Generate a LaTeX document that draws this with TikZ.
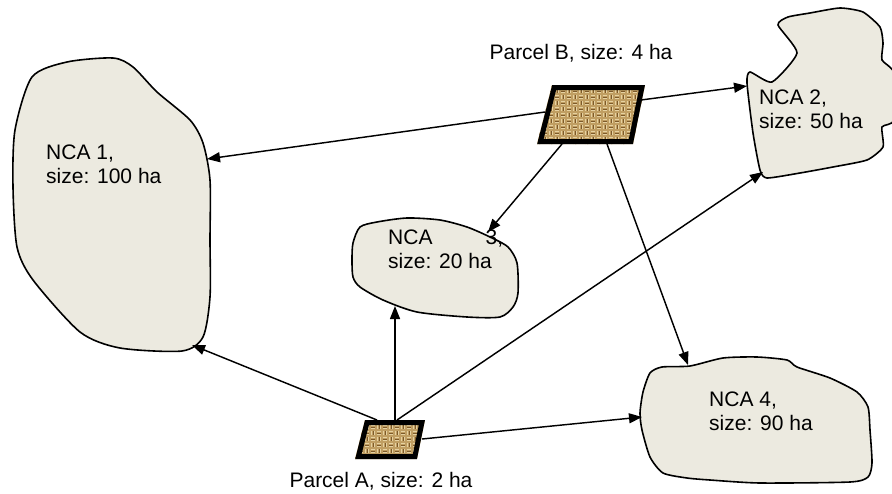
\documentclass[tikz,border=0pt]{standalone}
\usepackage{fontspec}
\setmainfont{Liberation Sans}
\usetikzlibrary{arrows.meta}
\definecolor{blobfill}{RGB}{236,234,224}
\definecolor{burlap}{RGB}{192,158,98}
\definecolor{burlaplight}{RGB}{230,210,162}
\definecolor{burlapdark}{RGB}{125,90,42}
\newcommand\weavecells[4]{%
  \foreach \i in {0,...,#3}{\foreach \j in {0,...,#4}{%
    \pgfmathsetmacro\cx{#1+6*\i}\pgfmathsetmacro\cy{#2+6*\j}%
    \ifodd\numexpr\i+\j\relax
      \draw[burlaplight,line width=1.7pt] (\cx+1.5,\cy+0.6) -- (\cx+1.5,\cy+5.4);
      \draw[burlaplight,line width=1.7pt] (\cx+4.5,\cy+0.6) -- (\cx+4.5,\cy+5.4);
      \draw[burlapdark,line width=0.6pt] (\cx+3,\cy+1) -- (\cx+3,\cy+5);
    \else
      \draw[burlaplight,line width=1.7pt] (\cx+0.6,\cy+1.5) -- (\cx+5.4,\cy+1.5);
      \draw[burlaplight,line width=1.7pt] (\cx+0.6,\cy+4.5) -- (\cx+5.4,\cy+4.5);
      \draw[burlapdark,line width=0.6pt] (\cx+1,\cy+3) -- (\cx+5,\cy+3);
    \fi}}}
\begin{document}
\begin{tikzpicture}[x=1pt,y=-1pt,
  blob/.style={draw=black,line width=1.6pt,fill=blobfill},
  link/.style={draw=black,line width=1.45pt,-{Triangle[length=13pt,width=10pt]}},
  lbl/.style={inner sep=0pt,font=\fontsize{21}{24}\selectfont},
  parcelborder/.style={draw=black,line width=5pt,line join=miter}]
\useasboundingbox (0,0) rectangle (892,493);

% NCA areas
\draw[blob] plot[smooth cycle,tension=0.45] coordinates {(113,58) (133,67) (157,92) (190,120) (203,143) (210,180) (210,240) (210,297) (203,337) (182,351) (120,348) (80,332) (33,280) (17,247) (13,187) (15,130) (32,77) (67,62)};
\draw[blob] plot[smooth cycle,tension=0.35] coordinates {(750,72) (772,82) (797,53) (778,25) (788,17) (810,13) (840,8) (863,12) (880,27) (883,43) (882,60) (894,73) (894,120) (882,127) (883,147) (867,160) (833,167) (800,173) (767,178) (760,170) (753,133) (747,83)};
\draw[blob] plot[smooth cycle,tension=0.45] coordinates {(360,227) (377,222) (407,218) (440,220) (467,227) (490,237) (508,247) (517,263) (518,293) (513,307) (500,317) (467,317) (417,312) (383,300) (360,287) (353,277) (352,260) (353,243)};
\draw[blob] plot[smooth cycle,tension=0.4] coordinates {(650,373) (662,367) (690,366) (723,358) (757,357) (787,360) (797,367) (830,378) (857,392) (868,407) (870,430) (872,463) (868,477) (850,482) (760,483) (710,480) (687,478) (663,473) (650,457) (642,430) (640,413) (643,392)};

% Parcel B
\begin{scope}
  \clip (552,85) -- (645,85) -- (633,144) -- (537,144) -- cycle;
  \fill[burlap] (530,80) rectangle (650,150);
  \weavecells{530}{82}{20}{10}
\end{scope}
\draw[parcelborder] (554.2,87.5) -- (641.9,87.5) -- (630.9,141.5) -- (540.4,141.5) -- cycle;

% Parcel A
\begin{scope}
  \clip (365,420) -- (425,420) -- (417,459) -- (355,459) -- cycle;
  \fill[burlap] (350,415) rectangle (430,462);
  \weavecells{352}{418}{12}{7}
\end{scope}
\draw[parcelborder] (367,422.5) -- (421.9,422.5) -- (414.9,456.5) -- (358.4,456.5) -- cycle;

% labels
\node[lbl,anchor=base] (lblB) at (581,59) {Parcel B, size: 4 ha};
\node[lbl,anchor=base] (lblA) at (381,487) {Parcel A, size: 2 ha};
\node[lbl,anchor=base west] (t1) at (46,159) {\begin{tabular}[t]{@{}l@{}}NCA 1,\\size: 100 ha\end{tabular}};
\node[lbl,anchor=base west] (t2) at (759,104) {\begin{tabular}[t]{@{}l@{}}NCA 2,\\size: 50 ha\end{tabular}};
\node[lbl,anchor=base west] (t3) at (388,244) {\begin{tabular}[t]{@{}l@{}}\makebox[115pt][l]{NCA\hfill 3,}\\size: 20 ha\end{tabular}};
\node[lbl,anchor=base west] (t4) at (709,406) {\begin{tabular}[t]{@{}l@{}}NCA 4,\\size: 90 ha\end{tabular}};

% connector end points
\coordinate (B1) at (545,112);
\coordinate (B2) at (641,100);
\coordinate (B3) at (562,144);
\coordinate (B4) at (607,144);
\coordinate (A1) at (377,420);
\coordinate (A2) at (395,420);
\coordinate (A3) at (397,420);
\coordinate (A4) at (422,439);
\coordinate (N1top) at (207,159);
\coordinate (N1bot) at (192,345);
\coordinate (N2left) at (747,86);
\coordinate (N2bot) at (763,172);
\coordinate (N3top) at (488,232);
\coordinate (N3bot) at (395,306);
\coordinate (N4top) at (688,365);
\coordinate (N4left) at (642,417);

\draw[link] (B1) -- (N1top);
\draw[link] (B2) -- (N2left);
\draw[link] (B3) -- (N3top);
\draw[link] (B4) -- (N4top);
\draw[link] (A1) -- (N1bot);
\draw[link] (A2) -- (N3bot);
\draw[link] (A3) -- (N2bot);
\draw[link] (A4) -- (N4left);
\end{tikzpicture}
\end{document}
